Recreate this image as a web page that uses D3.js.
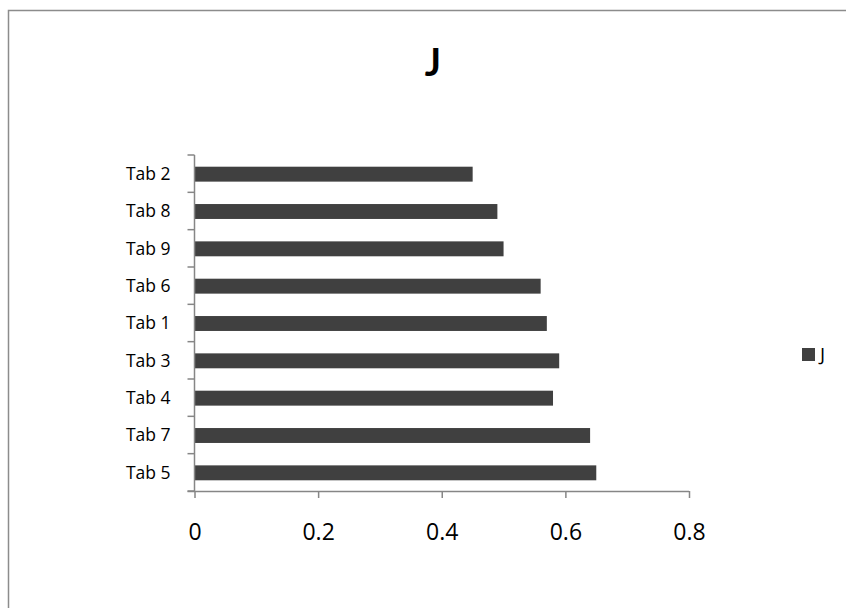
<!DOCTYPE html>
<html>
<head>
<meta charset="utf-8">
<script src="https://cdn.jsdelivr.net/npm/d3@7"></script>
<style>
  html, body { margin: 0; padding: 0; background: #fff; overflow: hidden; }
  svg { display: block; }
</style>
</head>
<body>
<svg id="chart" width="846" height="608"></svg>
<script>
// Categories listed top to bottom, with their J values
const categories = ["Tab 2", "Tab 8", "Tab 9", "Tab 6", "Tab 1", "Tab 3", "Tab 4", "Tab 7", "Tab 5"];
const values = [0.45, 0.49, 0.50, 0.56, 0.57, 0.59, 0.58, 0.64, 0.65];
const xTicks = [0, 0.2, 0.4, 0.6, 0.8];
const xTickLabels = ["0", "0.2", "0.4", "0.6", "0.8"];
const seriesName = "J";
const chartTitle = "J";

const svg = d3.select("#chart");
const font = "'Open Sans', sans-serif";
const axisColor = "#868686";
const barColor = "#404040";

// Outer chart frame (continues past the right and bottom edges)
svg.append("path")
  .attr("d", "M8.5,620V10.5H860")
  .attr("fill", "none")
  .attr("stroke", "#8c8c8c")
  .attr("stroke-width", 1.5);

const plot = { left: 194.5, right: 689, top: 155, bottom: 491 };

const x = d3.scaleLinear().domain([0, 0.8]).range([plot.left, plot.right]);
const y = d3.scaleBand().domain(categories).range([plot.top, plot.bottom]).paddingInner(0).paddingOuter(0);

// Bars
const barH = y.bandwidth() * 0.4;
svg.append("g").selectAll("rect")
  .data(categories.map((c, i) => ({ c, v: values[i] })))
  .join("rect")
  .attr("x", x(0))
  .attr("y", d => y(d.c) + (y.bandwidth() - barH) / 2 + 0.5)
  .attr("width", d => x(d.v) - x(0))
  .attr("height", barH)
  .attr("fill", barColor);

// Value axis along the bottom
const xAxis = svg.append("g")
  .attr("transform", `translate(0,${plot.bottom})`)
  .call(d3.axisBottom(x).tickValues(xTicks)
    .tickFormat((d, i) => xTickLabels[i])
    .tickSizeInner(7).tickSizeOuter(0).tickPadding(26));
xAxis.select(".domain").attr("stroke", axisColor).attr("stroke-width", 1.5)
  .attr("d", `M${plot.left - 7},0.5H${plot.right}`);
xAxis.selectAll(".tick line").attr("stroke", axisColor).attr("stroke-width", 1.5);
xAxis.selectAll(".tick text")
  .attr("font-family", font).attr("font-size", 23).attr("fill", "#000");

// Category axis: ticks sit on the band boundaries
const yAxis = svg.append("g").attr("transform", `translate(${plot.left},0)`);
yAxis.append("line")
  .attr("x1", 0).attr("x2", 0)
  .attr("y1", plot.top).attr("y2", plot.bottom)
  .attr("stroke", axisColor).attr("stroke-width", 1.5);
const bounds = categories.map(c => y(c)).concat([plot.bottom]);
yAxis.selectAll("line.tk")
  .data(bounds)
  .join("line")
  .attr("class", "tk")
  .attr("x1", -7).attr("x2", 0)
  .attr("y1", d => d).attr("y2", d => d)
  .attr("stroke", axisColor).attr("stroke-width", 1.5);
yAxis.selectAll("text")
  .data(categories)
  .join("text")
  .attr("x", -24)
  .attr("y", d => y(d) + y.bandwidth() / 2)
  .attr("dy", "0.36em")
  .attr("text-anchor", "end")
  .attr("font-family", font).attr("font-size", 17.5)
  .attr("fill", "#000")
  .text(d => d);

// Title
svg.append("text")
  .attr("x", 433).attr("y", 76)
  .attr("text-anchor", "middle")
  .attr("font-family", "Lato, sans-serif").attr("font-weight", "bold").attr("font-size", 38)
  .attr("fill", "#000")
  .text(chartTitle);

// Legend
const legend = svg.append("g").attr("transform", "translate(802,348)");
legend.append("rect").attr("width", 13).attr("height", 13).attr("fill", barColor);
legend.append("text")
  .attr("x", 18).attr("y", 6.5).attr("dy", "0.36em")
  .attr("font-family", font).attr("font-size", 19)
  .attr("fill", "#000")
  .text(seriesName);
</script>
</body>
</html>
